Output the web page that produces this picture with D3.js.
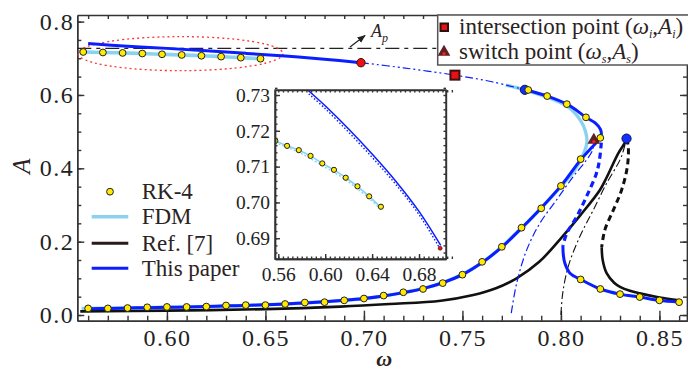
<!DOCTYPE html>
<html><head><meta charset="utf-8">
<script src="https://cdnjs.cloudflare.com/ajax/libs/d3/7.8.5/d3.min.js"></script>
<style>
body{margin:0;background:#fff}
svg{display:block;font-family:"Liberation Serif","Times New Roman",serif}
.axis path,.axis line{stroke:#333;stroke-width:1.4}
.axis text{fill:#222;font-family:"Liberation Serif",serif}
</style></head><body>
<svg width="688" height="367"></svg>
<script>
// RK-4 points
const rkUpperW = [0.5575,0.5675,0.5775,0.5875,0.5975,0.6075,0.6175,0.6275,0.6375,0.6475]
const rkUpperA = [0.7172,0.7158,0.7146,0.7130,0.7109,0.7091,0.7069,0.7045,0.7017,0.6988]
const rkLowW = [0.56,0.57,0.58,0.59,0.60,0.61,0.62,0.63,0.64,0.65,0.66,0.67,0.68,0.69,0.70,0.71,0.72,0.73,0.74,0.75,0.76,0.77,0.78,0.79,0.80,0.81,0.82]
const rkLowA = [0.018,0.018,0.019,0.021,0.022,0.022,0.023,0.026,0.027,0.027,0.030,0.034,0.035,0.040,0.045,0.053,0.062,0.071,0.087,0.110,0.145,0.186,0.238,0.291,0.352,0.425,0.483]
const rkNoseW = [0.8127,0.803,0.793,0.7834]
const rkNoseA = [0.539,0.575,0.597,0.6136]
const rkRightW = [0.81,0.82,0.83,0.84,0.85,0.86]
const rkRightA = [0.097,0.071,0.057,0.049,0.040,0.035]

// FDM
const fdmUpperW = [0.5556,0.5675,0.5775,0.5875,0.5975,0.6075,0.6175,0.6275,0.6375,0.6478]
const fdmUpperA = [0.7175,0.7158,0.7146,0.7130,0.7109,0.7091,0.7069,0.7045,0.7017,0.6985]
const fdmLowW = [0.5567,0.58,0.60,0.62,0.64,0.66,0.68,0.70,0.72,0.74,0.76,0.78,0.79,0.80,0.807,0.8115,0.8132,0.8125,0.81,0.804,0.793,0.782,0.772]
const fdmLowA = [0.018,0.019,0.021,0.023,0.026,0.030,0.036,0.045,0.061,0.088,0.143,0.237,0.292,0.35,0.395,0.44,0.47,0.50,0.53,0.566,0.594,0.613,0.627]

// This paper
const blueUpperW = [0.56,0.58,0.60,0.62,0.64,0.66,0.68,0.6985]
const blueUpperA = [0.740,0.733,0.727,0.7205,0.7135,0.706,0.6975,0.688]
const blueLowW = [0.561,0.57,0.58,0.59,0.60,0.61,0.62,0.63,0.64,0.65,0.66,0.67,0.68,0.69,0.70,0.71,0.72,0.73,0.74,0.75,0.76,0.77,0.78,0.79,0.80,0.81,0.8155,0.819,0.8205,0.8200,0.8175,0.8127,0.808,0.803,0.793,0.7817]
const blueLowA = [0.017,0.018,0.019,0.020,0.021,0.022,0.023,0.025,0.026,0.028,0.030,0.033,0.036,0.040,0.045,0.052,0.061,0.072,0.088,0.110,0.143,0.185,0.237,0.292,0.352,0.423,0.456,0.477,0.492,0.507,0.523,0.539,0.558,0.575,0.597,0.614]
const blueMidW = [0.6985,0.72,0.7462,0.765,0.7817]
const blueMidA = [0.688,0.674,0.654,0.636,0.614]
const blueDashW = [0.8205,0.8195,0.818,0.813,0.808,0.803,0.801]
const blueDashA = [0.47,0.42,0.386,0.323,0.268,0.223,0.19]
const blueRightW = [0.801,0.8012,0.802,0.8046,0.81,0.82,0.83,0.84,0.85,0.86]
const blueRightA = [0.19,0.165,0.141,0.114,0.097,0.071,0.057,0.049,0.040,0.035]
const blueRiseW = [0.7748,0.7775,0.7826,0.7893,0.7978,0.8062,0.813,0.8161,0.8167]
const blueRiseA = [0.005,0.086,0.177,0.25,0.314,0.377,0.423,0.45,0.486]

// Ref. [7]
const refLowW = [0.556,0.60,0.65,0.688,0.713,0.739,0.7555,0.767,0.7775,0.789,0.80,0.81,0.8198,0.8232,0.8291,0.8325,0.8333]
const refLowA = [0.010,0.012,0.016,0.023,0.030,0.039,0.0545,0.073,0.10,0.145,0.209,0.273,0.341,0.375,0.441,0.470,0.481]
const refDashW = [0.8333,0.8342,0.8337,0.8308,0.8266,0.8223,0.8207]
const refDashA = [0.481,0.459,0.404,0.341,0.286,0.232,0.185]
const refRightW = [0.8207,0.8212,0.8232,0.827,0.83,0.835,0.84,0.85,0.86]
const refRightA = [0.185,0.15,0.114,0.088,0.077,0.066,0.059,0.048,0.040]
const refRiseW = [0.80,0.8009,0.8037,0.8096,0.8164,0.8232,0.83,0.8318,0.8333]
const refRiseA = [0.0,0.059,0.132,0.214,0.286,0.359,0.423,0.45,0.481]

// inset companions (dotted)
const insetBlueDotW = [0.586,0.60,0.62,0.64,0.66,0.68,0.698]
const insetBlueDotA = [0.7303,0.7262,0.7196,0.7126,0.7051,0.6966,0.6870]
const insetFdmDotW = [0.5572,0.5775,0.5975,0.6175,0.6375,0.6478]
const insetFdmDotA = [0.7167,0.7140,0.7103,0.7063,0.7011,0.6980]

// special points
const blueDots = [[0.7817,0.614],[0.8333,0.481]]
const redDot = [0.6985,0.688]
const insetRedDot = [0.698,0.6872]
const interPoint = [0.7462,0.654]
const switchPoint = [0.8167,0.477]
const Ap = 0.727
const ellipse = {w:0.6069, a:0.7126, rw:0.052, ra:0.0464}

const xMajor = [0.60,0.65,0.70,0.75,0.80,0.85]
const yMajor = [0.0,0.2,0.4,0.6,0.8]
const insetXTicks = [0.56,0.60,0.64,0.68]
const insetYTicks = [0.69,0.70,0.71,0.72,0.73]
const legendNames = ['RK-4','FDM','Ref. [7]','This paper']

const BLUE = '#0a1eff', LIGHT = '#8ad2f0', BLACK = '#111', YEL = '#ffea00'

const svg = d3.select('svg'),
    margin = {top:15,right:1,bottom:46.3,left:77.3},
    width = 688 - margin.left - margin.right,
    height = 367 - margin.top - margin.bottom,
    x = d3.scaleLinear().domain([0.5545,0.864]).range([0,width]),
    y = d3.scaleLinear().domain([-0.0155,0.818]).range([height,0]),
    chart = svg.append('g').attr('transform','translate('+margin.left+','+margin.top+')')

const line = d3.line().x(d => x(d[0])).y(d => y(d[1])).curve(d3.curveCatmullRom)

function path(g, W, A, color, w, dash){
  return g.append('path').datum(d3.zip(W,A))
    .attr('d', line).attr('fill','none').attr('stroke',color)
    .attr('stroke-width',w).attr('stroke-dasharray',dash||null)
    .attr('stroke-linecap','butt')
}

// frame & axes
const minorX = d3.range(56,87).map(d => d/100)
const minorY = d3.range(0,17).map(d => d*0.05)
chart.append('g').attr('class','axis').attr('transform','translate(0,'+height+')')
  .call(d3.axisBottom(x).tickValues(minorX).tickSize(-5).tickSizeOuter(0).tickFormat(''))
chart.append('g').attr('class','axis').attr('transform','translate(0,'+height+')')
  .call(d3.axisBottom(x).tickValues(xMajor).tickSize(-10).tickSizeOuter(0).tickPadding(8).tickFormat(d3.format('.2f')))
  .selectAll('text').attr('font-size',24).attr('letter-spacing','1.5px')
chart.append('g').attr('class','axis')
  .call(d3.axisTop(x).tickValues(minorX).tickSize(-4).tickSizeOuter(0).tickFormat(''))
chart.append('g').attr('class','axis')
  .call(d3.axisLeft(y).tickValues(minorY).tickSize(-4).tickSizeOuter(0).tickFormat(''))
chart.append('g').attr('class','axis')
  .call(d3.axisLeft(y).tickValues(yMajor).tickSize(-7).tickSizeOuter(0).tickPadding(3).tickFormat(d3.format('.1f')))
  .selectAll('text').attr('font-size',24).attr('letter-spacing','1.5px')
chart.append('g').attr('class','axis').attr('transform','translate('+width+',0)')
  .call(d3.axisRight(y).tickValues(minorY).tickSize(-4).tickSizeOuter(0).tickFormat(''))
chart.append('g').attr('class','axis').attr('transform','translate('+width+',0)')
  .call(d3.axisRight(y).tickValues(yMajor).tickSize(-7).tickSizeOuter(0).tickFormat(''))

svg.append('text').attr('transform','translate(30,166) rotate(-90)')
  .attr('text-anchor','middle').attr('font-size',25).attr('font-style','italic').attr('fill','#2b2222').text('A')
svg.append('text').attr('x',margin.left+width/2+2).attr('y',366)
  .attr('text-anchor','middle').attr('font-size',22).attr('font-style','italic').attr('font-weight','bold').attr('fill','#2b2222').text('ω')

// A_p line, ellipse
chart.append('line').attr('x1',0).attr('x2',width).attr('y1',y(Ap)).attr('y2',y(Ap))
  .attr('stroke','#222').attr('stroke-width',1.2).attr('stroke-dasharray','14,5,4,5')
chart.append('ellipse').attr('cx',x(ellipse.w)).attr('cy',y(ellipse.a))
  .attr('rx',x(ellipse.w+ellipse.rw)-x(ellipse.w)).attr('ry',y(ellipse.a-ellipse.ra)-y(ellipse.a))
  .attr('fill','none').attr('stroke','#ff3333').attr('stroke-width',1.3).attr('stroke-dasharray','2,3')

// curves
path(chart, fdmUpperW, fdmUpperA, LIGHT, 3.6)
path(chart, fdmLowW, fdmLowA, LIGHT, 3.4)
path(chart, refLowW, refLowA, BLACK, 2.6)
path(chart, refRightW, refRightA, BLACK, 2.6)
path(chart, refDashW, refDashA, BLACK, 3, '6,4')
path(chart, refRiseW, refRiseA, BLACK, 1.1, '8,3,2,3')
path(chart, blueUpperW, blueUpperA, BLUE, 3)
path(chart, blueLowW, blueLowA, BLUE, 3)
path(chart, blueRightW, blueRightA, BLUE, 3)
path(chart, blueDashW, blueDashA, BLUE, 3.2, '6,4')
path(chart, blueMidW, blueMidA, BLUE, 1.2, '8,3,2,3,2,3')
path(chart, blueRiseW, blueRiseA, BLUE, 1.2, '8,3,2,3')

// markers
chart.selectAll('.bdot').data(blueDots).join('circle')
  .attr('cx',d => x(d[0])).attr('cy',d => y(d[1])).attr('r',4.6)
  .attr('fill','#1030ff').attr('stroke','#111150').attr('stroke-width',1)
const rkAll = d3.zip(rkUpperW,rkUpperA).concat(d3.zip(rkLowW,rkLowA), d3.zip(rkNoseW,rkNoseA), d3.zip(rkRightW,rkRightA))
chart.selectAll('.rk').data(rkAll).join('circle')
  .attr('cx',d => x(d[0])).attr('cy',d => y(d[1])).attr('r',3.4)
  .attr('fill',YEL).attr('stroke','#222').attr('stroke-width',1)
chart.append('circle').attr('cx',x(redDot[0])).attr('cy',y(redDot[1])).attr('r',4.2)
  .attr('fill','#ee1111').attr('stroke','#3a1010').attr('stroke-width',1)
chart.append('rect').attr('x',x(interPoint[0])-4.5).attr('y',y(interPoint[1])-4.5).attr('width',9).attr('height',9)
  .attr('fill','#e81010').attr('stroke','#3a1212').attr('stroke-width',2)
function tri(g, cx, cy){
  g.append('path').attr('transform','translate('+cx+','+cy+')')
    .attr('d',d3.symbol(d3.symbolTriangle,70)()).attr('fill','#5e2020')
  g.append('circle').attr('cx',cx).attr('cy',cy+1.5).attr('r',1.6).attr('fill','#ff2020')
}
tri(chart, x(switchPoint[0]), y(switchPoint[1]))

// A_p annotation
svg.append('defs').append('marker').attr('id','arr').attr('viewBox','0 0 10 10').attr('refX',9).attr('refY',5)
  .attr('markerWidth',7).attr('markerHeight',7).attr('orient','auto')
  .append('path').attr('d','M0,1L10,5L0,9Z').attr('fill','#222')
svg.append('line').attr('x1',350).attr('y1',47).attr('x2',365).attr('y2',35.5)
  .attr('stroke','#222').attr('stroke-width',1.2).attr('marker-end','url(#arr)')
const apT = svg.append('text').attr('x',371).attr('y',36.5).attr('font-size',18).attr('font-style','italic').attr('fill','#2b2222')
apT.append('tspan').text('A')
apT.append('tspan').attr('font-size',12).attr('dy',5).text('p')

// top-right legend
const lg = svg.append('g')
lg.append('rect').attr('x',437.7).attr('y',15).attr('width',260).attr('height',50)
  .attr('fill','#fff').attr('stroke','#555').attr('stroke-width',1.5)
lg.append('rect').attr('x',440.5).attr('y',23.5).attr('width',7.5).attr('height',7.5)
  .attr('fill','#e81010').attr('stroke','#2a1010').attr('stroke-width',2)
tri(lg, 444, 52)
function subLabel(yy, sub1, lead){
  const t = lg.append('text').attr('x',459).attr('y',yy).attr('font-size',23).attr('fill','#2b2222')
  t.append('tspan').text(lead+' (')
  t.append('tspan').attr('font-style','italic').text('ω')
  t.append('tspan').attr('font-style','italic').attr('font-size',12).attr('dy',4).text(sub1)
  t.append('tspan').attr('dy',-4).text(',')
  t.append('tspan').attr('font-style','italic').text('A')
  t.append('tspan').attr('font-style','italic').attr('font-size',12).attr('dy',4).text(sub1)
  t.append('tspan').attr('dy',-4).text(')')
}
subLabel(34, 'i', 'intersection point')
subLabel(59, 's', 'switch point')

// left legend
const legY = [191.7,216.7,243.3,268.3]
const leg = svg.append('g')
leg.append('circle').attr('cx',110).attr('cy',legY[0]).attr('r',3.4).attr('fill',YEL).attr('stroke','#222')
;[[LIGHT,3.5],['#2a1a1a',3],[BLUE,3]].forEach((c,i) => {
  leg.append('line').attr('x1',91.7).attr('x2',128.3).attr('y1',legY[i+1]).attr('y2',legY[i+1])
    .attr('stroke',c[0]).attr('stroke-width',c[1])
})
leg.selectAll('text').data(legendNames).join('text')
  .attr('x',141.7).attr('y',(d,i) => legY[i]+7.5).attr('font-size',23).attr('fill','#2b2222').text(d => d)

// inset
const ix = d3.scaleLinear().domain([0.5572,0.703]).range([275,446]),
      iy = d3.scaleLinear().domain([0.6842,0.7314]).range([259,90])
const inset = svg.append('g')
inset.append('rect').attr('x',275).attr('y',90).attr('width',171).attr('height',169).attr('fill','#fff')
inset.append('clipPath').attr('id','ic').append('rect').attr('x',275).attr('y',90).attr('width',171).attr('height',169)
const il = d3.line().x(d => ix(d[0])).y(d => iy(d[1])).curve(d3.curveCatmullRom)
const ig = inset.append('g').attr('clip-path','url(#ic)')
function ipath(W, A, color, w, dash){
  ig.append('path').datum(d3.zip(W,A)).attr('d',il).attr('fill','none')
    .attr('stroke',color).attr('stroke-width',w).attr('stroke-dasharray',dash||null)
}
ipath(insetFdmDotW, insetFdmDotA, LIGHT, 1.4, '2,2')
ipath(fdmUpperW, fdmUpperA, LIGHT, 1.6)
ipath(insetBlueDotW, insetBlueDotA, BLUE, 1.4, '1.5,2')
ipath(blueUpperW, blueUpperA, BLUE, 1.5)
ig.selectAll('.irk').data(d3.zip(rkUpperW,rkUpperA)).join('circle')
  .attr('cx',d => ix(d[0])).attr('cy',d => iy(d[1])).attr('r',2.6)
  .attr('fill',YEL).attr('stroke','#222').attr('stroke-width',1)
ig.append('circle').attr('cx',ix(insetRedDot[0])).attr('cy',iy(insetRedDot[1])).attr('r',2)
  .attr('fill','#ee1111').attr('stroke','#3a1010').attr('stroke-width',0.6)

const ixMinor = d3.range(0,38).map(d => 0.56+d*0.004)
const iyMinor = d3.range(0,24).map(d => 0.686+d*0.002)
function iax(axis, tr){ return inset.append('g').attr('class','axis').attr('transform',tr).call(axis) }
iax(d3.axisBottom(ix).tickValues(ixMinor).tickSize(-2.5).tickSizeOuter(0).tickFormat(''),'translate(0,259)')
iax(d3.axisTop(ix).tickValues(ixMinor).tickSize(-2.5).tickSizeOuter(0).tickFormat(''),'translate(0,90)')
iax(d3.axisLeft(iy).tickValues(iyMinor).tickSize(-2.5).tickSizeOuter(0).tickFormat(''),'translate(275,0)')
iax(d3.axisRight(iy).tickValues(iyMinor).tickSize(-2.5).tickSizeOuter(0).tickFormat(''),'translate(446,0)')
iax(d3.axisBottom(ix).tickValues(insetXTicks).tickSize(-5).tickSizeOuter(0).tickPadding(8).tickFormat(d3.format('.2f')),'translate(0,259)')
  .selectAll('text').attr('font-size',19.5)
iax(d3.axisLeft(iy).tickValues(insetYTicks).tickSize(-5).tickSizeOuter(0).tickPadding(5).tickFormat(d3.format('.2f')),'translate(275,0)')
  .selectAll('text').attr('font-size',19.5)
inset.append('rect').attr('x',275).attr('y',90).attr('width',171).attr('height',169)
  .attr('fill','none').attr('stroke','#333').attr('stroke-width',1.4)
</script>
</body></html>
